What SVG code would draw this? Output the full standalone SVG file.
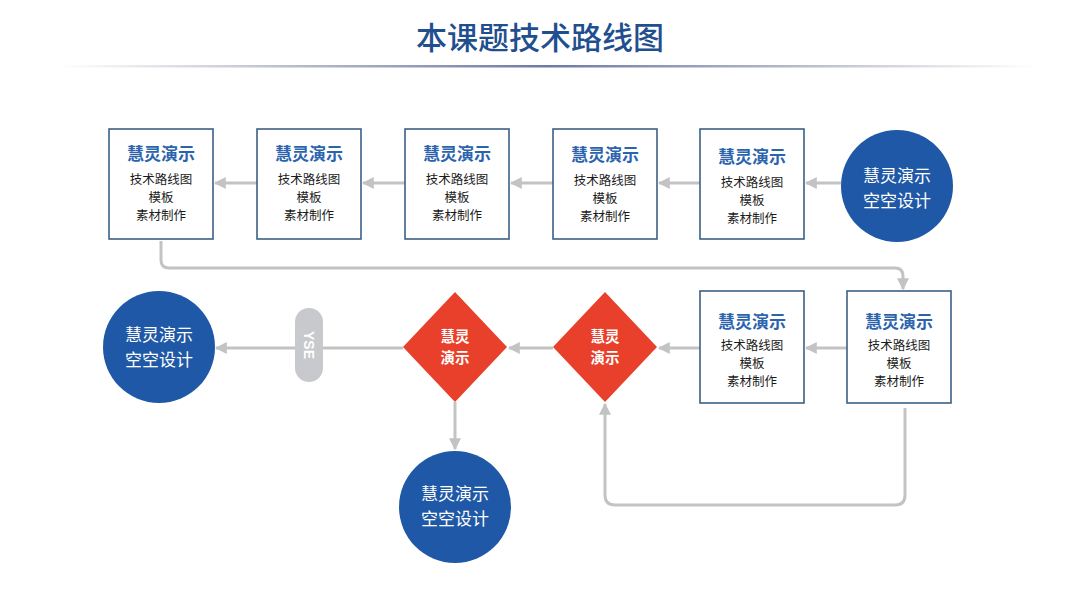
<svg xmlns="http://www.w3.org/2000/svg" width="1080" height="607" viewBox="0 0 1080 607">
<defs>
<linearGradient id="rule" x1="0" x2="1" y1="0" y2="0">
<stop offset="0" stop-color="#ffffff"/>
<stop offset="0.25" stop-color="#b5bac6"/>
<stop offset="0.5" stop-color="#6e79a8"/>
<stop offset="0.75" stop-color="#b5bac6"/>
<stop offset="1" stop-color="#ffffff"/>
</linearGradient>
<marker id="ah" viewBox="0 0 10 10" refX="9" refY="5" markerWidth="4" markerHeight="4" orient="auto" markerUnits="strokeWidth">
<path d="M0,0 L10,5 L0,10 Z" fill="#c3c3c3"/>
</marker>
<style>
text{font-family:"Noto Sans CJK SC","Noto Sans",sans-serif;text-anchor:middle}
.box{fill:#ffffff;stroke:#3d5f86;stroke-width:1.6}
.bt{font-size:17px;font-weight:700;fill:#2c63ad}
.bl{font-size:12.5px;fill:#1a1a1a}
.circ{fill:#1f58a6}
.ct{font-size:17px;fill:#ffffff}
.dia{fill:#e8402a}
.dt{font-size:14.5px;font-weight:700;fill:#ffffff}
.con{fill:none;stroke:#c3c3c3;stroke-width:3;marker-end:url(#ah)}
</style>
</defs>
<rect width="1080" height="607" fill="#ffffff"/>
<text x="540" y="49" style="font-size:31px;fill:#1f4f8f;font-weight:500">本课题技术路线图</text>
<rect x="60" y="65" width="975" height="2.5" fill="url(#rule)"/>

<g id="connectors">
<line class="con" x1="257" y1="183" x2="215" y2="183"/>
<line class="con" x1="405" y1="183" x2="363" y2="183"/>
<line class="con" x1="553" y1="183" x2="511" y2="183"/>
<line class="con" x1="700" y1="183" x2="659" y2="183"/>
<line class="con" x1="841" y1="183" x2="806" y2="183"/>
<path class="con" d="M161,241 V260 Q161,268 169,268 H895 Q903,268 903,276 V289"/>
<line class="con" x1="847" y1="348" x2="806" y2="348"/>
<line class="con" x1="700" y1="348" x2="659" y2="348"/>
<line class="con" x1="553" y1="348" x2="509" y2="348"/>
<line class="con" x1="403" y1="348" x2="216" y2="348"/>
<line class="con" x1="455" y1="402" x2="455" y2="449"/>
<path class="con" d="M905,408 V495 Q905,505 895,505 H615 Q605,505 605,495 V404"/>
</g>

<g id="yse">
<rect x="295" y="308" width="28" height="74" rx="14" fill="#c8c9cd"/>
<text x="309" y="345" transform="rotate(90 309 345)" dy="5" style="font-size:14px;font-weight:700;fill:#ffffff;font-family:'Liberation Sans',sans-serif">YSE</text>
</g>

<g id="box1"><rect class="box" x="109" y="129" width="104" height="110"/>
<text class="bt" x="161" y="160">慧灵演示</text><text class="bl" x="161" y="184">技术路线图<tspan x="161" dy="18.2">模板</tspan><tspan x="161" dy="18.2">素材制作</tspan></text></g>
<g id="box2"><rect class="box" x="257" y="129" width="104" height="110"/>
<text class="bt" x="309" y="160">慧灵演示</text><text class="bl" x="309" y="184">技术路线图<tspan x="309" dy="18.2">模板</tspan><tspan x="309" dy="18.2">素材制作</tspan></text></g>
<g id="box3"><rect class="box" x="405" y="129" width="104" height="110"/>
<text class="bt" x="457" y="160">慧灵演示</text><text class="bl" x="457" y="184">技术路线图<tspan x="457" dy="18.2">模板</tspan><tspan x="457" dy="18.2">素材制作</tspan></text></g>
<g id="box4"><rect class="box" x="553" y="129" width="104" height="110"/>
<text class="bt" x="605" y="161">慧灵演示</text><text class="bl" x="605" y="185">技术路线图<tspan x="605" dy="18.2">模板</tspan><tspan x="605" dy="18.2">素材制作</tspan></text></g>
<g id="box5"><rect class="box" x="700" y="129" width="104" height="110"/>
<text class="bt" x="752" y="163">慧灵演示</text><text class="bl" x="752" y="187">技术路线图<tspan x="752" dy="18.2">模板</tspan><tspan x="752" dy="18.2">素材制作</tspan></text></g>
<g id="circle1"><circle class="circ" cx="897" cy="186" r="56"/>
<text class="ct" x="897" y="182">慧灵演示<tspan x="897" dy="24.7">空空设计</tspan></text></g>

<g id="boxA"><rect class="box" x="847" y="291" width="104" height="112"/>
<text class="bt" x="899" y="328">慧灵演示</text><text class="bl" x="899" y="350">技术路线图<tspan x="899" dy="18.2">模板</tspan><tspan x="899" dy="18.2">素材制作</tspan></text></g>
<g id="boxB"><rect class="box" x="700" y="291" width="104" height="112"/>
<text class="bt" x="752" y="328">慧灵演示</text><text class="bl" x="752" y="350">技术路线图<tspan x="752" dy="18.2">模板</tspan><tspan x="752" dy="18.2">素材制作</tspan></text></g>
<g id="diamond1"><polygon class="dia" points="605,292 657,347 605,402 553,347"/>
<text class="dt" x="605" y="342">慧灵<tspan x="605" dy="21">演示</tspan></text></g>
<g id="diamond2"><polygon class="dia" points="455,292 507,347 455,402 403,347"/>
<text class="dt" x="455" y="342">慧灵<tspan x="455" dy="21">演示</tspan></text></g>
<g id="circle2"><circle class="circ" cx="159" cy="347" r="56"/>
<text class="ct" x="159" y="341">慧灵演示<tspan x="159" dy="24.7">空空设计</tspan></text></g>
<g id="circle3"><circle class="circ" cx="455" cy="507" r="56"/>
<text class="ct" x="455" y="500">慧灵演示<tspan x="455" dy="24.7">空空设计</tspan></text></g>
</svg>
